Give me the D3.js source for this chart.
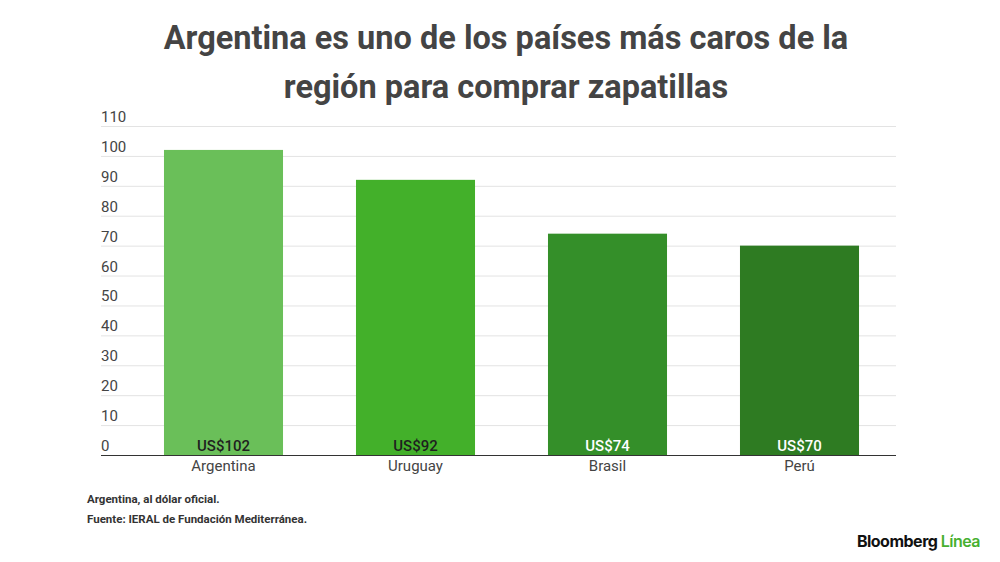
<!DOCTYPE html>
<html>
<head>
<meta charset="utf-8">
<script src="https://cdn.jsdelivr.net/npm/d3@7"></script>
<style>
  body { margin: 0; background: #fff; }
  svg { display: block; font-family: Roboto, "Noto Sans", sans-serif; }
</style>
</head>
<body>
<svg id="chart" width="1000" height="562"></svg>
<script>
var countries = ["Argentina", "Uruguay", "Brasil", "Perú"];
var prices = [102, 92, 74, 70];
var barColors = ["#6abf59", "#43b02a", "#348f29", "#2e7b22"];
var labelColors = ["#1f1f1f", "#1f1f1f", "#ffffff", "#ffffff"];
var yTicks = [0, 10, 20, 30, 40, 50, 60, 70, 80, 90, 100, 110];
var titleLines = ["Argentina es uno de los países más caros de la", "región para comprar zapatillas"];
var notes = ["Argentina, al dólar oficial.", "Fuente: IERAL de Fundación Mediterránea."];

var data = countries.map(function(c, i) {
  return {country: c, price: prices[i], color: barColors[i], label: labelColors[i]};
});

var svg = d3.select("#chart");
var width = 1000, height = 562;

var gridLeft = 101, gridRight = 896;

var x = d3.scaleBand()
  .domain(countries)
  .range([127.5, 895.5])
  .paddingInner(0.38)
  .paddingOuter(0.19);

var y = d3.scaleLinear()
  .domain([0, 110])
  .range([455, 126]);

// title
svg.append("g").selectAll("text")
  .data(titleLines)
  .enter().append("text")
  .attr("x", 506)
  .attr("y", function(d, i) { return 49 + i * 49; })
  .attr("text-anchor", "middle")
  .attr("font-size", 32.5)
  .attr("font-weight", 700)
  .attr("fill", "#444")
  .text(function(d) { return d; });

// gridlines + y labels
var grid = svg.append("g");
grid.selectAll("line")
  .data(yTicks.filter(function(t) { return t > 0; }))
  .enter().append("line")
  .attr("x1", gridLeft)
  .attr("x2", gridRight)
  .attr("y1", function(d) { return y(d) + 0.5; })
  .attr("y2", function(d) { return y(d) + 0.5; })
  .attr("stroke", "#e3e3e3")
  .attr("stroke-width", 1);

grid.selectAll("text")
  .data(yTicks)
  .enter().append("text")
  .attr("x", gridLeft)
  .attr("y", function(d) { return y(d) - 4; })
  .attr("font-size", 15)
  .attr("fill", "#444")
  .text(function(d) { return d; });

// bars
svg.append("g").selectAll("rect")
  .data(data)
  .enter().append("rect")
  .attr("x", function(d) { return x(d.country); })
  .attr("width", x.bandwidth())
  .attr("y", function(d) { return y(d.price); })
  .attr("height", function(d) { return y(0) - y(d.price); })
  .attr("fill", function(d) { return d.color; });

// value labels inside bars
svg.append("g").selectAll("text")
  .data(data)
  .enter().append("text")
  .attr("x", function(d) { return x(d.country) + x.bandwidth() / 2; })
  .attr("y", y(0) - 4)
  .attr("text-anchor", "middle")
  .attr("font-size", 15)
  .attr("font-weight", 500)
  .attr("fill", function(d) { return d.label; })
  .text(function(d) { return "US$" + d.price; });

// x axis
var xAxis = svg.append("g")
  .attr("transform", "translate(0," + y(0) + ")")
  .call(d3.axisBottom(x).tickSize(0).tickPadding(5));
xAxis.select(".domain").remove();
xAxis.selectAll("text")
  .attr("font-family", "Roboto, 'Noto Sans', sans-serif")
  .attr("font-size", 15)
  .attr("fill", "#444");

svg.append("line")
  .attr("x1", gridLeft)
  .attr("x2", gridRight)
  .attr("y1", y(0) + 0.5)
  .attr("y2", y(0) + 0.5)
  .attr("stroke", "#333")
  .attr("stroke-width", 1.2);

// notes
svg.append("g").selectAll("text")
  .data(notes)
  .enter().append("text")
  .attr("x", 87)
  .attr("y", function(d, i) { return 503 + i * 20; })
  .attr("font-size", 11.5)
  .attr("font-weight", 700)
  .attr("fill", "#333")
  .text(function(d) { return d; });

// logo
var logo = svg.append("text")
  .attr("x", 980)
  .attr("y", 547)
  .attr("text-anchor", "end")
  .attr("font-family", "Inter, Roboto, sans-serif")
  .attr("font-size", 16)
  .attr("font-weight", 700)
  .attr("letter-spacing", -0.5);
logo.append("tspan").attr("fill", "#111").text("Bloomberg ");
logo.append("tspan").attr("fill", "#47b030").attr("font-weight", 600).text("Línea");
</script>
</body>
</html>
